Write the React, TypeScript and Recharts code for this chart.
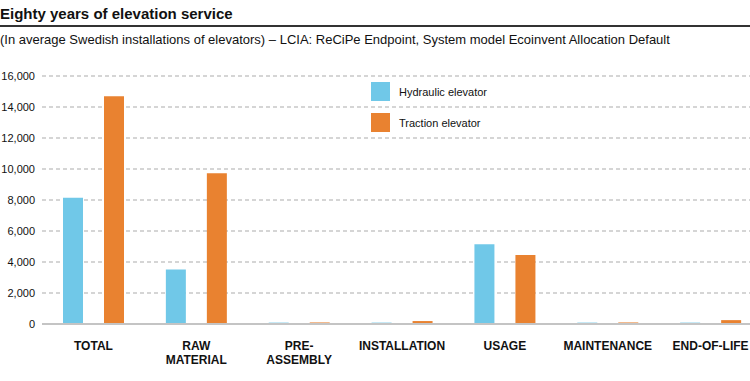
import React from 'react';
import { BarChart, Bar, XAxis, YAxis, CartesianGrid } from 'recharts';

const categories = ['TOTAL', 'RAW\nMATERIAL', 'PRE-\nASSEMBLY', 'INSTALLATION', 'USAGE', 'MAINTENANCE', 'END-OF-LIFE'];
const hydraulic = [8150, 3520, 90, 90, 5150, 90, 90];
const traction = [14700, 9720, 100, 190, 4450, 100, 250];
const yTicks = [0, 2000, 4000, 6000, 8000, 10000, 12000, 14000, 16000];
const seriesNames = ['Hydraulic elevator', 'Traction elevator'];

const BLUE = '#70c8e8';
const ORANGE = '#e98230';
const FONT = '"Liberation Sans", Arial, sans-serif';
const seriesColors = [BLUE, ORANGE];

const chartData = categories.map((name, i) => ({
    name,
    hydraulic: hydraulic[i],
    traction: traction[i],
}));

const CategoryTick = (props: any) => {
    const { x, y, payload } = props;
    const lines = String(payload.value).split('\n');
    return (
        <g transform={`translate(${x},${y})`}>
            {lines.map((line: string, i: number) => (
                <text
                    key={i}
                    x={0}
                    y={18 + i * 14}
                    textAnchor="middle"
                    fontFamily={FONT}
                    fontWeight="bold"
                    fontSize={12}
                    fill="#111"
                >
                    {line}
                </text>
            ))}
        </g>
    );
};

export default function App() {
    return (
        <div style={{ position: 'absolute', left: 0, top: 0, width: 750, height: 381, overflow: 'hidden', background: '#fff' }}>
            {/* Header */}
            <div
                style={{
                    position: 'absolute', left: 0, top: 5,
                    fontFamily: '"Liberation Sans Narrow", "Liberation Sans", sans-serif',
                    fontWeight: 'bold', fontSize: 15, color: '#111', whiteSpace: 'nowrap',
                }}
            >
                Eighty years of elevation service
            </div>
            <div style={{ position: 'absolute', left: 0, top: 25, width: 750, height: 2, background: '#333' }} />
            <div
                style={{
                    position: 'absolute', left: 0, top: 32,
                    fontFamily: FONT, fontSize: 13, color: '#111', whiteSpace: 'nowrap',
                }}
            >
                (In average Swedish installations of elevators) – LCIA: ReCiPe Endpoint, System model Ecoinvent Allocation Default
            </div>

            {/* Chart */}
            <div style={{ position: 'absolute', left: 0, top: 60 }}>
                <BarChart
                    width={762}
                    height={321}
                    data={chartData}
                    margin={{ top: 16, right: 0, left: 0, bottom: 0 }}
                    barSize={20}
                    barGap={21}
                >
                    <CartesianGrid vertical={false} stroke="#c8c8c8" strokeWidth={1.5} strokeDasharray="4 3" />
                    <XAxis
                        dataKey="name"
                        height={57}
                        interval={0}
                        tickLine={false}
                        axisLine={{ stroke: '#c4c4c4', strokeWidth: 2 }}
                        tick={<CategoryTick />}
                    />
                    <YAxis
                        width={42}
                        domain={[0, 16000]}
                        ticks={yTicks}
                        axisLine={false}
                        tickLine={false}
                        tickSize={0}
                        tickMargin={7}
                        tickFormatter={(v: number) => v.toLocaleString('en-US')}
                        tick={{ fontFamily: FONT, fontSize: 11, fill: '#111' }}
                    />
                    <Bar dataKey="hydraulic" name={seriesNames[0]} fill={BLUE} isAnimationActive={false} />
                    <Bar dataKey="traction" name={seriesNames[1]} fill={ORANGE} isAnimationActive={false} />
                </BarChart>
            </div>

            {/* Legend */}
            <div style={{ position: 'absolute', left: 371, top: 82 }}>
                {seriesNames.map((name, i) => (
                    <div key={name} style={{ display: 'flex', alignItems: 'center', height: 19, marginBottom: 12 }}>
                        <div style={{ width: 19, height: 19, background: seriesColors[i], marginRight: 9 }} />
                        <span style={{ fontFamily: FONT, fontSize: 11, color: '#111' }}>{name}</span>
                    </div>
                ))}
            </div>
        </div>
    );
}
